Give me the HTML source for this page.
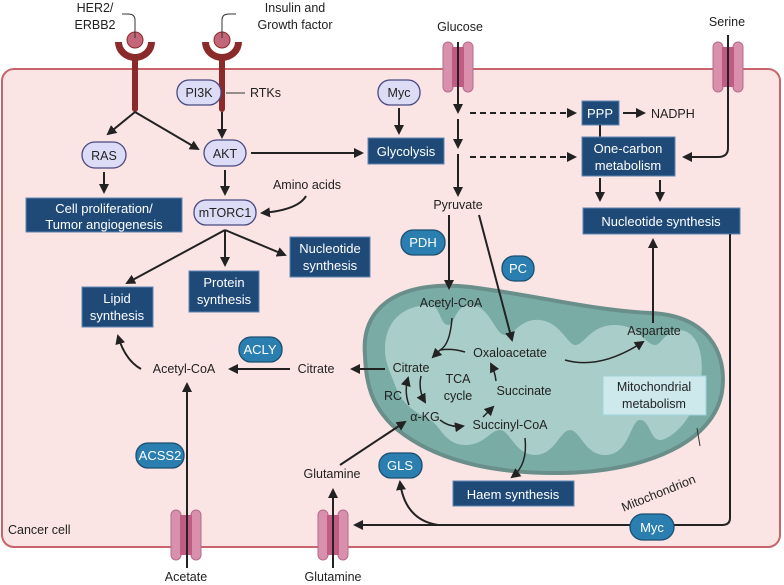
<!DOCTYPE html>
<html><head><meta charset="utf-8"><style>
html,body{margin:0;padding:0;background:#fff}
svg{display:block}
text{font-family:"Liberation Sans",sans-serif;font-size:12.5px;fill:#222}
.w{fill:#fff;font-size:13px}
.bx{fill:#1f4a78;stroke:#5d86b5;stroke-width:1}
.lp{fill:#dcdcf6;stroke:#4a4a80;stroke-width:1.3}
.bp{fill:#2a7fb0;stroke:#1b4f70;stroke-width:1.3}
.ln{stroke:#222;stroke-width:2;fill:none}
</style></head><body>
<svg width="784" height="585" viewBox="0 0 784 585" xmlns="http://www.w3.org/2000/svg">
<defs>
<marker id="a" markerWidth="10" markerHeight="10" refX="8" refY="5" orient="auto" markerUnits="userSpaceOnUse"><path d="M0,0 L10,5 L0,10 Z" fill="#222"/></marker>
<g id="tr"><rect x="-15" y="0" width="10" height="50" rx="5" fill="#d990ad" stroke="#b56d8a"/><rect x="5" y="0" width="10" height="50" rx="5" fill="#d990ad" stroke="#b56d8a"/><rect x="-6" y="5" width="12" height="40" fill="#c25b84"/></g>
<g id="rc"><rect x="-3" y="5" width="6" height="55" rx="3" fill="#8a2a2a"/><path d="M-20,-10 A20,19 0 0 0 20,-10 L13,-10 A13,12 0 0 1 -13,-10 Z" fill="#8a2a2a"/><circle cx="0" cy="-12" r="8" fill="#c4667a" stroke="#8a2a2a"/></g>
</defs>
<rect x="2" y="69" width="778" height="478" rx="12" fill="#fbe4e4" stroke="#c9646c" stroke-width="2"/>

<use href="#rc" x="135" y="52"/>
<use href="#rc" x="222" y="52"/>
<path d="M135,38 L135,20 Q135,14 128,14 L122,14" stroke="#333" fill="none"/>
<path d="M222,38 L222,20 Q222,14 229,14 L236,14" stroke="#333" fill="none"/>
<text x="95" y="12" text-anchor="middle" font-size="13.5">HER2/</text>
<text x="95" y="29" text-anchor="middle" font-size="13.5">ERBB2</text>
<text x="295" y="12" text-anchor="middle" font-size="13.5">Insulin and</text>
<text x="295" y="29" text-anchor="middle" font-size="13.5">Growth factor</text>

<use href="#tr" x="458" y="42"/>
<use href="#tr" x="728" y="42"/>
<use href="#tr" x="186" y="510"/>
<use href="#tr" x="333" y="510"/>
<text x="460" y="31" text-anchor="middle" font-size="13.5">Glucose</text>
<text x="727" y="26" text-anchor="middle" font-size="13.5">Serine</text>
<text x="186" y="581" text-anchor="middle" font-size="13.5">Acetate</text>
<text x="333" y="581" text-anchor="middle" font-size="13.5">Glutamine</text>
<text x="8" y="534" font-size="13">Cancer cell</text>

<rect x="177" y="80" width="44" height="25" rx="12" class="lp"/><text x="199" y="97" text-anchor="middle">PI3K</text>
<line x1="226" y1="93" x2="245" y2="93" stroke="#333"/><text x="250" y="97">RTKs</text>
<path class="ln" d="M135,112 L108,134" marker-end="url(#a)"/>
<path class="ln" d="M135,112 L198,149" marker-end="url(#a)"/>
<path class="ln" d="M222,112 L222,137" marker-end="url(#a)"/>
<rect x="82" y="142" width="44" height="26" rx="13" class="lp"/><text x="104" y="160" text-anchor="middle">RAS</text>
<rect x="204" y="140" width="42" height="26" rx="13" class="lp"/><text x="225" y="158" text-anchor="middle">AKT</text>
<path class="ln" d="M251,153 L362,153" marker-end="url(#a)"/>
<path class="ln" d="M104,172 L104,192" marker-end="url(#a)"/>
<rect x="26" y="198" width="156" height="34" class="bx"/>
<text x="104" y="213" class="w" text-anchor="middle">Cell proliferation/</text>
<text x="104" y="229" class="w" text-anchor="middle">Tumor angiogenesis</text>
<path class="ln" d="M225,170 L225,194" marker-end="url(#a)"/>
<rect x="194" y="200" width="62" height="25" rx="12" class="lp"/><text x="225" y="217" text-anchor="middle">mTORC1</text>
<text x="307" y="189" text-anchor="middle">Amino acids</text>
<path class="ln" d="M306,196 Q298,210 262,213" marker-end="url(#a)"/>
<path class="ln" d="M225,230 L127,283" marker-end="url(#a)"/>
<path class="ln" d="M225,230 L225,265" marker-end="url(#a)"/>
<path class="ln" d="M225,230 L285,255" marker-end="url(#a)"/>
<rect x="82" y="287" width="71" height="40" class="bx"/><text x="117" y="303" class="w" text-anchor="middle">Lipid</text><text x="117" y="320" class="w" text-anchor="middle">synthesis</text>
<rect x="189" y="271" width="70" height="41" class="bx"/><text x="224" y="287" class="w" text-anchor="middle">Protein</text><text x="224" y="304" class="w" text-anchor="middle">synthesis</text>
<rect x="290" y="237" width="80" height="40" class="bx"/><text x="330" y="253" class="w" text-anchor="middle">Nucleotide</text><text x="330" y="270" class="w" text-anchor="middle">synthesis</text>

<rect x="378" y="80" width="42" height="25" rx="12" class="lp"/><text x="399" y="97" text-anchor="middle">Myc</text>
<path class="ln" d="M399,108 L399,133" marker-end="url(#a)"/>
<rect x="368" y="138" width="76" height="26" class="bx"/><text x="406" y="156" class="w" text-anchor="middle">Glycolysis</text>
<path class="ln" d="M458,42 L458,112" marker-end="url(#a)"/>
<path class="ln" d="M458,119 L458,147" marker-end="url(#a)"/>
<path class="ln" d="M458,154 L458,195" marker-end="url(#a)"/>
<path class="ln" d="M470,113 L575,113" stroke-dasharray="6,4" marker-end="url(#a)"/>
<path class="ln" d="M470,157 L575,157" stroke-dasharray="6,4" marker-end="url(#a)"/>
<text x="458" y="209" text-anchor="middle">Pyruvate</text>
<rect x="582" y="101" width="37" height="24" class="bx"/><text x="600" y="118" class="w" text-anchor="middle">PPP</text>
<path class="ln" d="M623,113 L644,113" marker-end="url(#a)"/><text x="651" y="118">NADPH</text>
<line x1="600" y1="125" x2="600" y2="137" stroke="#222" stroke-width="2"/>
<rect x="582" y="137" width="93" height="39" class="bx"/><text x="628" y="153" class="w" text-anchor="middle">One-carbon</text><text x="628" y="170" class="w" text-anchor="middle">metabolism</text>
<path class="ln" d="M728,35 L728,148 Q728,157 718,157 L684,157" marker-end="url(#a)"/>
<path class="ln" d="M600,178 L600,200" marker-end="url(#a)"/>
<path class="ln" d="M660,180 L660,200" marker-end="url(#a)"/>
<rect x="583" y="208" width="157" height="26" class="bx"/><text x="661" y="226" class="w" text-anchor="middle">Nucleotide synthesis</text>

<path d="M365,355 C360,300 410,280 470,287 C540,296 590,310 650,313 C705,315 728,350 722,392 C714,440 650,472 560,473 C470,474 420,450 392,425 C372,405 366,385 365,355 Z" fill="#7aaca6" stroke="#6a8f8b" stroke-width="4"/>
<path d="M385,350 C385,315 410,305 430,305 C440,305 440,325 448,325 C455,325 455,305 470,305 C490,305 495,335 505,335 C515,335 520,318 540,320 C560,322 568,345 575,345 C585,345 590,325 615,325 C640,325 645,345 655,345 C662,345 665,330 680,330 C700,332 705,360 700,385 C695,420 670,440 660,440 C650,440 650,420 640,420 C630,420 630,455 605,455 C585,455 580,430 570,430 C560,430 555,455 535,455 C515,455 510,430 500,430 C490,430 485,445 465,445 C445,445 440,425 430,420 C410,410 400,400 395,385 C390,372 385,362 385,350 Z" fill="#a9cdc8"/>
<rect x="603" y="376" width="103" height="39" fill="#cde9ec" stroke="#9fd2dc"/>
<text x="654" y="391" text-anchor="middle" font-size="13">Mitochondrial</text><text x="654" y="408" text-anchor="middle" font-size="13">metabolism</text>
<text x="660" y="497" transform="rotate(-22 660 497)" text-anchor="middle">Mitochondrion</text>
<line x1="697" y1="428" x2="700" y2="446" stroke="#333"/>

<rect x="401" y="230" width="44" height="25" rx="12" class="bp"/><text x="423" y="247" class="w" text-anchor="middle">PDH</text>
<rect x="502" y="256" width="32" height="25" rx="12" class="bp"/><text x="518" y="273" class="w" text-anchor="middle">PC</text>
<path class="ln" d="M449,215 L449,288" marker-end="url(#a)"/>
<path class="ln" d="M479,215 L512,340" marker-end="url(#a)"/>
<text x="451" y="307" text-anchor="middle">Acetyl-CoA</text>
<text x="510" y="357" text-anchor="middle">Oxaloacetate</text>
<text x="411" y="372" text-anchor="middle">Citrate</text>
<text x="458" y="383" text-anchor="middle" font-size="14">TCA</text>
<text x="458" y="400" text-anchor="middle" font-size="14">cycle</text>
<text x="524" y="395" text-anchor="middle">Succinate</text>
<text x="510" y="429" text-anchor="middle">Succinyl-CoA</text>
<text x="425" y="421" text-anchor="middle">α-KG</text>
<text x="393" y="400" text-anchor="middle">RC</text>
<text x="654" y="335" text-anchor="middle">Aspartate</text>
<path d="M452,318 Q450,345 440,350 Q452,348 465,352" stroke="#222" stroke-width="1.5" fill="none"/>
<path d="M440,350 L433,357" stroke="#222" stroke-width="1.5" fill="none" marker-end="url(#a)"/>
<path d="M421,376 Q418,390 425,402" stroke="#222" stroke-width="1.5" fill="none" marker-end="url(#a)"/>
<path d="M409,405 Q404,392 408,378" stroke="#222" stroke-width="1.5" fill="none" marker-end="url(#a)"/>
<path d="M440,420 Q450,428 463,426" stroke="#222" stroke-width="1.5" fill="none" marker-end="url(#a)"/>
<path d="M483,417 L493,407" stroke="#222" stroke-width="1.5" fill="none" marker-end="url(#a)"/>
<path d="M496,381 Q495,372 491,364" stroke="#222" stroke-width="1.5" fill="none" marker-end="url(#a)"/>
<path d="M565,360 Q600,370 643,342" stroke="#222" stroke-width="1.5" fill="none" marker-end="url(#a)"/>
<path class="ln" d="M653,323 L653,240" marker-end="url(#a)"/>
<path d="M525,438 Q528,465 512,477" stroke="#222" stroke-width="1.5" fill="none" marker-end="url(#a)"/>
<rect x="453" y="481" width="121" height="25" class="bx"/><text x="513" y="499" class="w" text-anchor="middle">Haem synthesis</text>

<path class="ln" d="M385,369 L352,369" marker-end="url(#a)"/>
<text x="316" y="373" text-anchor="middle">Citrate</text>
<rect x="239" y="337" width="43" height="25" rx="12" class="bp"/><text x="260" y="354" class="w" text-anchor="middle">ACLY</text>
<path class="ln" d="M290,369 L230,369" marker-end="url(#a)"/>
<text x="184" y="373" text-anchor="middle">Acetyl-CoA</text>
<path class="ln" d="M141,369 Q125,360 118,336" marker-end="url(#a)"/>
<rect x="136" y="443" width="48" height="25" rx="12" class="bp"/><text x="160" y="460" class="w" text-anchor="middle">ACSS2</text>
<path class="ln" d="M187,568 L187,384" marker-end="url(#a)"/>
<text x="332" y="478" text-anchor="middle">Glutamine</text>
<path class="ln" d="M333,568 L333,490" marker-end="url(#a)"/>
<path class="ln" d="M340,465 L405,422" marker-end="url(#a)"/>
<rect x="379" y="453" width="43" height="25" rx="12" class="bp"/><text x="400" y="470" class="w" text-anchor="middle">GLS</text>
<path class="ln" d="M730,234 L730,518 Q730,525 722,525 L355,525" marker-end="url(#a)"/>
<path class="ln" d="M438,525 Q405,520 400,482" marker-end="url(#a)"/>
<rect x="630" y="514" width="44" height="26" rx="13" class="bp"/><text x="652" y="532" class="w" text-anchor="middle">Myc</text>
</svg>
</body></html>
